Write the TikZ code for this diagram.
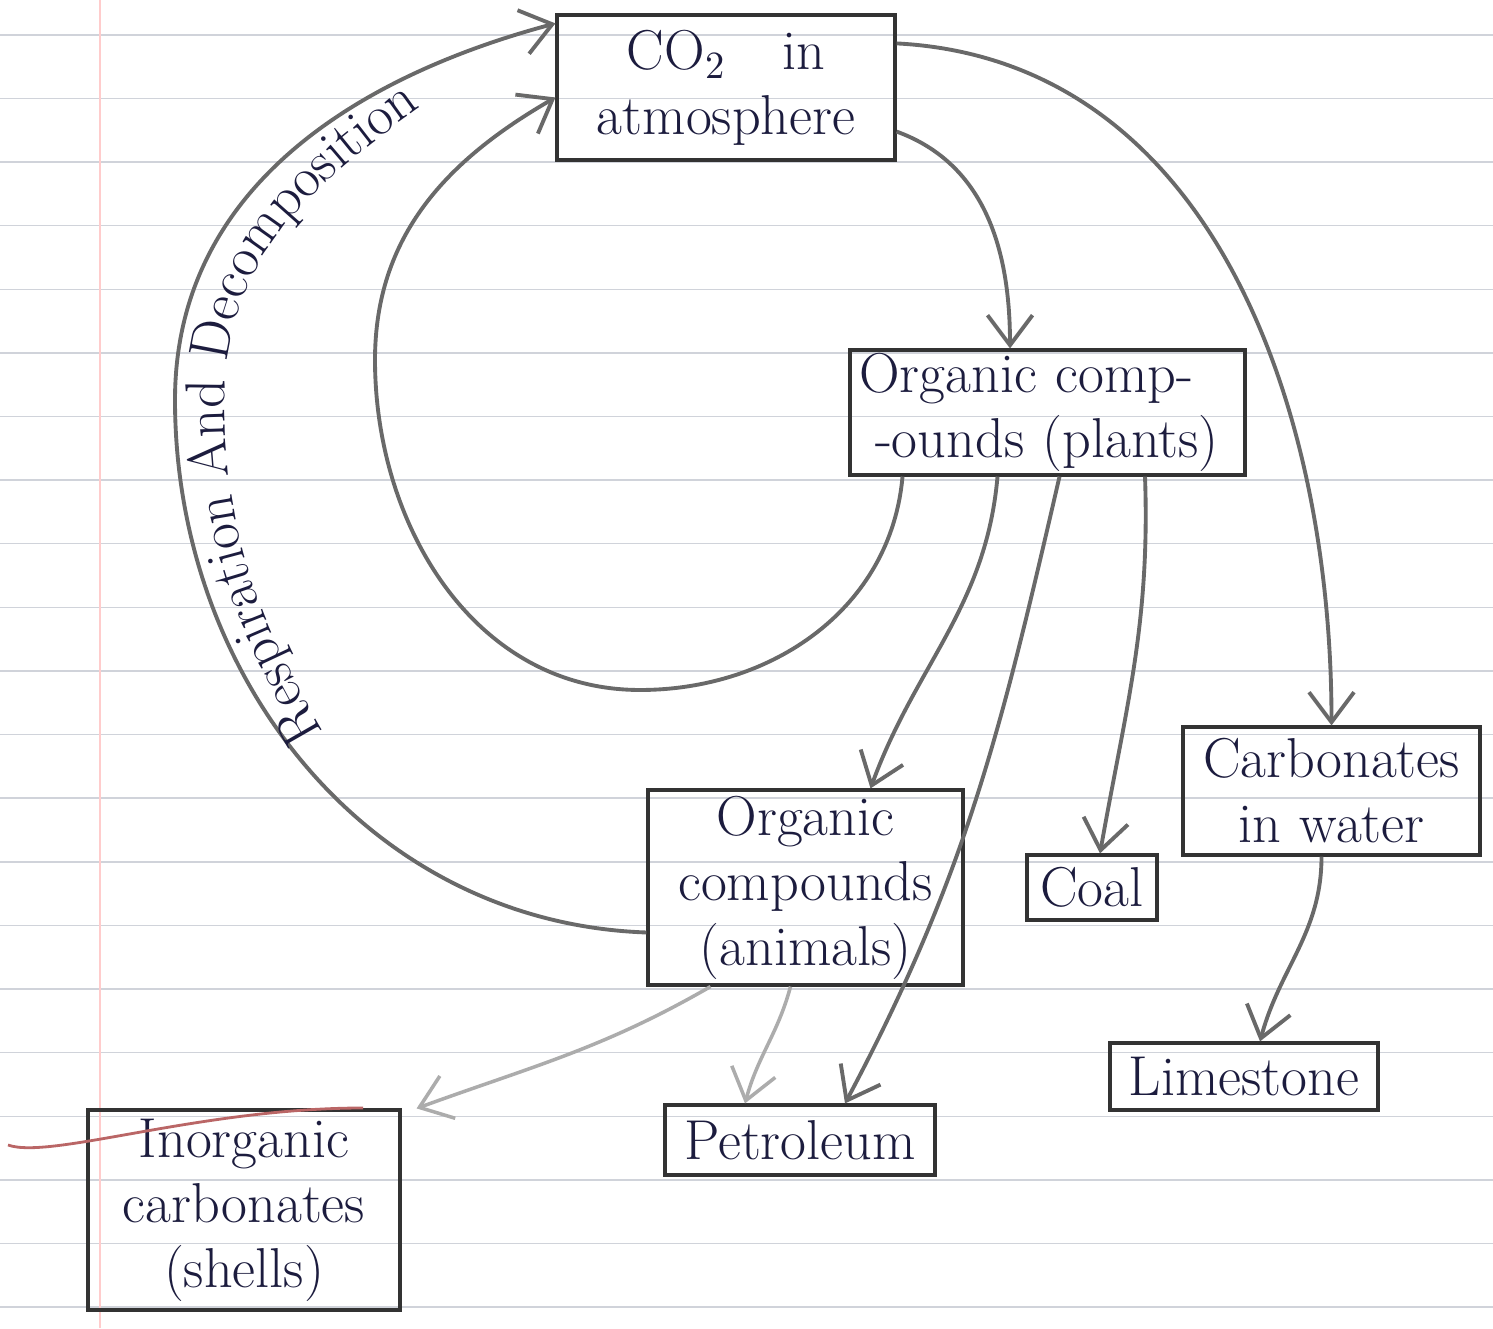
\documentclass[tikz,border=0pt]{standalone}
\usetikzlibrary{arrows.meta,decorations.text}

\definecolor{ink}{RGB}{28,28,62}
\definecolor{pencil}{RGB}{105,105,105}
\definecolor{ruled}{RGB}{150,158,172}

\tikzset{
  box/.style={draw=black!80, line width=0.9pt, inner sep=0pt, align=center,
    text=ink, font=\fontsize{16}{18.5}\selectfont},
  flow/.style={->, draw=pencil, line width=1.1pt},
  faint/.style={->, draw=pencil!55, line width=1pt},
}

\begin{document}
\begin{tikzpicture}[>={Straight Barb[length=3mm,width=4.5mm]}]
    % ruled page
    \useasboundingbox (0,0) rectangle (14.93,13.28);
    \fill[white] (0,0) rectangle (14.93,13.28);
    \foreach \k in {0,...,20}
        \draw[ruled!45] (0,{12.93-0.636*\k}) -- (14.93,{12.93-0.636*\k});
    \draw[red!20] (1.0,0) -- (1.0,13.28);

    % boxes
    \node[box, text width=3.38cm, minimum height=1.45cm] (co2) at (7.26,12.405) {CO$_2$\quad in\\atmosphere};
    \node[box, align=left, text width=3.95cm, minimum height=1.25cm] (plants) at (10.475,9.155) {\,Organic comp-\\\;\,-ounds (plants)};
    \node[box, text width=2.97cm, minimum height=1.28cm] (water) at (13.315,5.37) {Carbonates\\in water};
    \node[box, text width=1.30cm, minimum height=0.65cm] (coal) at (10.92,4.405) {Coal};
    \node[box, text width=3.15cm, minimum height=1.95cm] (animals) at (8.055,4.405) {Organic\\compounds\\(animals)};
    \node[box, text width=2.68cm, minimum height=0.67cm] (lime) at (12.44,2.515) {Limestone};
    \node[box, text width=2.70cm, minimum height=0.70cm] (petrol) at (8.0,1.88) {Petroleum};
    \node[box, text width=3.12cm, minimum height=2.0cm] (shells) at (2.44,1.18) {Inorganic\\carbonates\\(shells)};

    % loop points
    \coordinate (loopB) at (6.4,6.38);
    \coordinate (loopL) at (3.75,9.68);
    \coordinate (respL) at (1.75,9.28);

    % arrows from the atmosphere
    \draw[flow] ([yshift=-3mm]co2.north east) to[out=-3, in=90] (water.north);
    \draw[flow] ([yshift=3mm]co2.south east) to[out=-20, in=90] ([xshift=-0.375cm]plants.north);

    % plants back to the atmosphere
    \draw[flow] ([xshift=-1.45cm]plants.south) to[out=-95, in=0] (loopB)
        to[out=180, in=-90] (loopL) to[out=90, in=210] ([yshift=-1mm]co2.west);

    % respiration and decomposition
    \draw[flow] ([yshift=-0.45cm]animals.west) to[out=178, in=-90] (respL)
        to[out=90, in=195] ([yshift=-1mm]co2.north west);
    \path[decorate, decoration={text along path, text align=center,
        text color=ink, text={|\fontsize{16}{18}\selectfont|Respiration And Decomposition}}]
        (3.55,5.45) to[out=122, in=-90] (2.25,9.3) to[out=90, in=215] (4.7,12.55);

    % from plants
    \draw[flow] ([xshift=-0.5cm]plants.south) to[out=-95, in=70] ([xshift=0.65cm]animals.north);
    \draw[flow] ([xshift=0.12cm]plants.south) to[out=-103, in=62] ([xshift=0.45cm]petrol.north);
    \draw[flow] ([xshift=0.975cm]plants.south) to[out=-88, in=80] ([xshift=0.08cm]coal.north);

    % carbonates
    \draw[flow] ([xshift=-0.1cm]water.south) to[out=-90, in=75] ([xshift=0.16cm]lime.north);

    % from animals
    \draw[faint] ([xshift=-0.15cm]animals.south) to[out=-105, in=75] ([xshift=-0.55cm]petrol.north);
    \draw[faint] ([xshift=-0.95cm]animals.south) to[out=-150, in=20] ([xshift=0.15cm]shells.north east);

    % stray red stroke
    \draw[red!55!black!60, line width=0.8pt] (0.08,1.83) .. controls (0.5,1.68) and (2.0,2.2) .. (3.63,2.2);
\end{tikzpicture}
\end{document}
